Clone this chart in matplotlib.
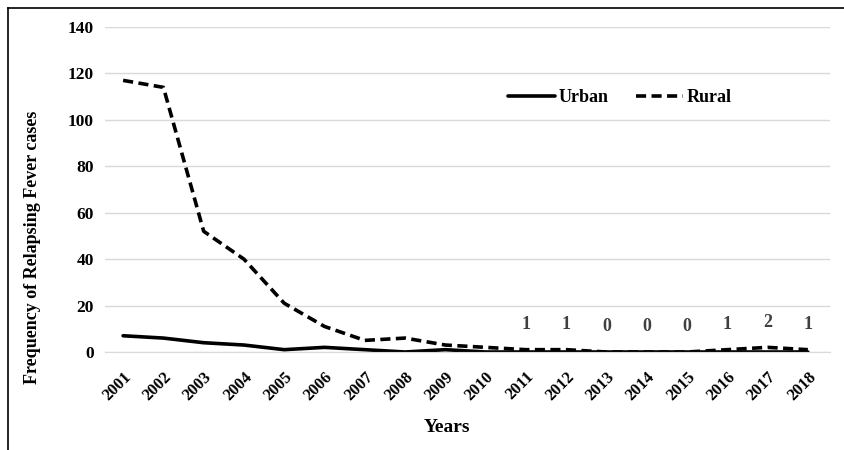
import matplotlib
matplotlib.use("Agg")
import matplotlib.pyplot as plt
from matplotlib.lines import Line2D

years = ["2001", "2002", "2003", "2004", "2005", "2006", "2007", "2008", "2009",
         "2010", "2011", "2012", "2013", "2014", "2015", "2016", "2017", "2018"]
urban = [7, 6, 4, 3, 1, 2, 1, 0, 1, 0, 0, 0, 0, 0, 0, 0, 0, 0]
rural = [117, 114, 52, 40, 21, 11, 5, 6, 3, 2, 1, 1, 0, 0, 0, 1, 2, 1]
label_years = ["2011", "2012", "2013", "2014", "2015", "2016", "2017", "2018"]

plt.rcParams['font.family'] = ['Liberation Serif', 'DejaVu Serif']
plt.rcParams['font.weight'] = 'bold'

fig = plt.figure(figsize=(8.45, 4.5), dpi=100)
ax = fig.add_axes([105/845, 1-352/450, (830-105)/845, (352-27)/450])

x = list(range(len(years)))
ax.plot(x, urban, color='black', lw=2.6, solid_capstyle='round', label='Urban')
ax.plot(x, rural, color='black', lw=2.6, ls=(0, (2.8, 1.5)), label='Rural')

for yr in label_years:
    i = years.index(yr)
    ax.annotate(str(rural[i]), (i, rural[i]), xytext=(0, 12), textcoords='offset points',
                ha='center', va='bottom', fontsize=13, color='#404040', fontweight='bold')

ax.set_xlim(-0.45, len(years) - 0.45)
ax.set_ylim(0, 140)
ax.set_yticks(range(0, 141, 20))
ax.set_xticks(x)
ax.set_xticklabels(years, rotation=45, ha='right', rotation_mode='anchor', fontsize=12, fontweight='bold')
for lab in ax.get_yticklabels():
    lab.set_fontsize(12.5)
    lab.set_fontweight('bold')
ax.tick_params(axis='y', length=0, pad=8)
ax.tick_params(axis='x', length=0, pad=12)
ax.grid(axis='y', color='#d9d9d9', lw=1)
ax.set_axisbelow(True)
for s in ['top', 'right', 'left']:
    ax.spines[s].set_visible(False)
ax.spines['bottom'].set_color('#d9d9d9')

ax.set_ylabel('Frequency of Relapsing Fever cases', fontsize=13, fontweight='bold')
ax.yaxis.set_label_coords(-(105-41)/725, (352-247)/325)
ax.set_xlabel('Years', fontsize=14, fontweight='bold')
ax.xaxis.set_label_coords((447-105)/725, -(419-352)/325)

leg = ax.legend(loc='center', bbox_to_anchor=((620-105)/725, (352-98)/325), ncol=2, frameon=False,
                fontsize=13, handlelength=2.6, columnspacing=1.5, handletextpad=0.2)

fig.add_artist(Line2D([8/845, 1], [1-8/450, 1-8/450], color='black', lw=1.2, transform=fig.transFigure))
fig.add_artist(Line2D([8/845, 8/845], [0, 1-8/450], color='black', lw=1.2, transform=fig.transFigure))

fig.savefig('out.png', dpi=100)
